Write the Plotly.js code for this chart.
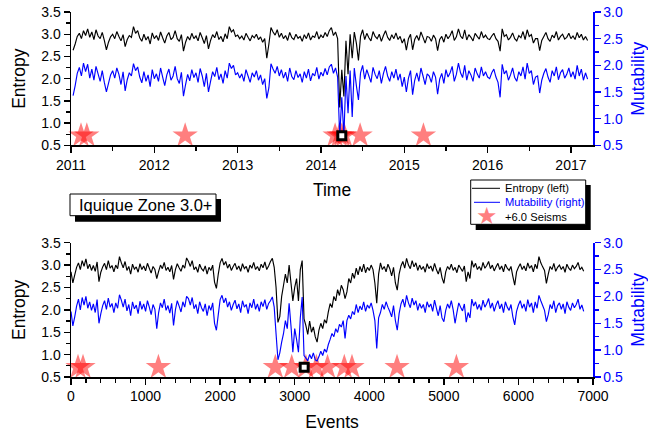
<!DOCTYPE html>
<html>
<head>
<meta charset="utf-8">
<script src="https://cdn.plot.ly/plotly-3.0.1.min.js"></script>
<style>
  html, body { margin: 0; padding: 0; background: #fff; }
  #chart { width: 648px; height: 432px; }
</style>
</head>
<body>
<div id="chart"></div>
<script>
// sampling of the two panels
const timeStart = 2011.025
const timeStep = 0.025
const eventStep = 25

// top panel, one value every 0.025 year
const timeEntropy = [
    2.64, 2.78, 2.95, 3.02, 2.9, 3.08, 2.97, 3.12, 2.93, 3.05, 2.88, 3.1, 2.96, 2.9, 3.04, 2.86, 2.65, 2.82, 2.94, 3.0,
    2.9, 3.06, 2.95, 2.85, 2.99, 2.72, 2.88, 2.97, 2.93, 3.17, 3.02, 3.08, 2.92, 2.84, 3.0, 2.87, 2.95, 2.78, 3.03, 2.9,
    2.97, 2.86, 3.05, 2.92, 2.8, 2.96, 3.04, 2.88, 2.93, 3.08, 2.9, 2.84, 2.99, 2.62, 2.82, 2.95, 2.87, 3.02, 2.9, 2.96,
    2.85, 3.04, 2.92, 2.79, 2.97, 2.67, 2.86, 2.99, 2.92, 3.06, 2.88, 2.95, 2.83, 3.01, 2.9, 3.17, 3.05, 3.1, 2.95, 2.98,
    2.9, 2.96, 2.87, 3.02, 2.93, 2.85, 2.97, 2.92, 3.0, 2.88, 2.94, 2.82, 2.9, 2.46, 2.78, 3.15, 3.05, 2.98, 3.1, 2.93,
    3.02, 2.9, 2.97, 2.86, 3.04, 2.92, 2.88, 3.0, 2.91, 2.95, 2.84, 2.99, 2.9, 3.03, 2.87, 2.96, 2.93, 3.06, 2.89, 2.98,
    2.92, 3.04, 2.95, 3.08, 3.15, 2.97, 3.05, 2.9, 1.35, 2.2, 1.6, 2.85, 2.1, 3.0, 2.46, 3.05, 2.8, 2.41, 2.95, 3.1,
    2.88, 3.02, 2.92, 2.85, 3.06, 2.95, 2.9, 3.0, 2.84, 2.97, 3.08, 2.93, 2.86, 2.99, 2.9, 3.03, 2.88, 2.95, 2.8, 2.9,
    2.64, 2.9, 3.0, 2.65, 2.88, 2.97, 2.86, 3.05, 2.93, 2.8, 2.95, 2.93, 2.84, 2.98, 2.9, 2.63, 2.88, 2.95, 2.82, 3.0,
    2.9, 2.97, 3.08, 2.86, 2.94, 3.12, 2.96, 2.9, 3.1, 2.87, 2.99, 2.93, 2.85, 3.02, 2.95, 2.89, 3.06, 2.92, 2.98, 2.9,
    2.88, 2.96, 3.02, 2.9, 2.84, 2.62, 3.12, 2.95, 2.99, 2.87, 2.93, 3.03, 2.9, 2.85, 2.97, 2.92, 3.06, 2.88, 3.1, 2.95,
    2.99, 2.8, 2.9, 2.9, 2.63, 2.86, 2.95, 3.04, 2.9, 2.84, 2.98, 2.92, 3.06, 2.87, 2.95, 3.0, 2.89, 2.93, 3.02, 2.9,
    2.96, 2.88, 3.04, 2.92, 3.0, 2.87, 2.95, 2.86
]
const timeMutability = [
    1.43, 1.62, 1.85, 1.96, 1.8, 2.04, 1.88, 2.02, 1.76, 1.93, 1.72, 1.98, 1.84, 1.7, 1.9, 1.68, 1.5, 1.66, 1.82, 1.9,
    1.76, 1.95, 1.83, 1.64, 1.88, 1.52, 1.73, 1.86, 1.8, 2.03, 1.9, 1.97, 1.78, 1.67, 1.88, 1.7, 1.82, 1.6, 1.92, 1.75,
    1.84, 1.7, 1.95, 1.78, 1.62, 1.82, 1.93, 1.72, 1.8, 1.98, 1.75, 1.66, 1.87, 1.42, 1.64, 1.83, 1.71, 1.92, 1.77, 1.86,
    1.68, 1.94, 1.8, 1.6, 1.85, 1.5, 1.7, 1.88, 1.79, 1.96, 1.73, 1.84, 1.66, 1.9, 1.76, 2.04, 1.94, 2.0, 1.82, 1.86,
    1.76, 1.84, 1.7, 1.92, 1.8, 1.68, 1.86, 1.78, 1.9, 1.72, 1.82, 1.64, 1.75, 1.38, 1.58, 2.03, 1.93, 1.85, 1.98, 1.8,
    1.92, 1.76, 1.87, 1.7, 1.95, 1.79, 1.73, 1.9, 1.77, 1.84, 1.68, 1.88, 1.76, 1.93, 1.71, 1.85, 1.8, 1.96, 1.74, 1.87,
    1.8, 1.94, 1.82, 1.97, 2.02, 1.85, 1.95, 1.78, 0.66, 1.4, 0.68, 1.8, 1.1, 1.9, 1.03, 1.95, 1.62, 1.35, 1.86, 2.0,
    1.74, 1.92, 1.8, 1.68, 1.96, 1.83, 1.75, 1.9, 1.66, 1.85, 1.98, 1.8, 1.7, 1.88, 1.76, 1.93, 1.72, 1.84, 1.6, 1.78,
    1.5, 1.76, 1.9, 1.45, 1.72, 1.86, 1.7, 1.95, 1.8, 1.64, 1.84, 1.8, 1.68, 1.88, 1.78, 1.46, 1.74, 1.85, 1.66, 1.92,
    1.78, 1.86, 1.98, 1.7, 1.83, 2.04, 1.86, 1.77, 2.0, 1.72, 1.9, 1.82, 1.7, 1.95, 1.84, 1.76, 1.97, 1.8, 1.88, 1.78,
    1.75, 1.86, 1.93, 1.78, 1.68, 1.4, 2.02, 1.84, 1.9, 1.72, 1.82, 1.95, 1.77, 1.7, 1.88, 1.8, 1.97, 1.74, 2.04, 1.85,
    1.9, 1.64, 1.78, 1.8, 1.48, 1.72, 1.85, 1.94, 1.78, 1.68, 1.9, 1.8, 1.97, 1.73, 1.86, 1.92, 1.76, 1.83, 1.95, 1.78,
    1.88, 1.74, 2.0, 1.8, 1.93, 1.72, 1.86, 1.74
]

// bottom panel, one value every 25 events
const eventEntropy = [
    2.85, 2.6, 2.78, 2.95, 3.05, 2.9, 3.1, 2.97, 3.14, 2.92, 3.02, 2.88, 2.99, 2.86, 3.07, 2.63, 2.84, 2.96, 3.04, 2.9,
    3.1, 2.93, 2.99, 2.85, 3.0, 2.92, 3.19, 3.05, 2.94, 3.08, 2.88, 2.97, 2.8, 3.02, 2.91, 2.96, 2.84, 3.03, 2.9, 2.98,
    2.87, 3.04, 2.93, 2.82, 2.97, 2.9, 2.7, 2.86, 3.0, 2.92, 3.06, 2.88, 2.95, 2.85, 2.99, 2.68, 2.9, 3.03, 2.94, 2.86,
    3.0, 2.93, 3.16, 3.08, 2.97, 3.1, 2.9, 2.96, 2.84, 3.02, 2.92, 2.87, 2.98, 2.8, 2.95, 2.88, 3.0, 2.62, 2.48, 2.8,
    3.05, 3.15, 3.0, 3.08, 2.93, 3.02, 2.88, 2.97, 3.04, 2.9, 2.98, 2.86, 3.03, 2.92, 2.97, 2.84, 3.0, 2.93, 3.06, 2.9,
    2.97, 2.87, 3.02, 2.94, 3.07, 2.9, 2.98, 3.08, 3.15, 2.95, 2.5, 1.72, 1.85, 2.3, 2.55, 2.8, 2.6, 3.0, 2.6, 2.2,
    2.5, 2.7, 2.2, 2.9, 3.1, 1.8, 1.65, 1.45, 1.75, 1.5, 1.62, 1.4, 1.28, 1.55, 1.7, 1.58, 1.78, 1.7, 1.95, 2.14,
    2.05, 2.3, 2.2, 2.45, 2.32, 2.55, 2.45, 2.25, 2.4, 2.7, 2.6, 2.82, 2.7, 2.93, 2.78, 2.97, 2.85, 3.02, 2.83, 2.95,
    2.88, 3.0, 2.9, 2.6, 2.15, 2.8, 3.05, 2.9, 2.97, 2.85, 3.02, 2.92, 2.76, 2.95, 2.6, 2.44, 2.8, 2.98, 3.08, 2.93,
    3.15, 3.0, 2.92, 3.1, 2.96, 3.05, 2.88, 3.0, 2.9, 2.97, 2.84, 3.03, 2.92, 2.98, 2.86, 3.04, 2.9, 2.8, 2.95, 2.72,
    2.59, 2.85, 2.97, 2.9, 3.02, 2.88, 2.95, 2.83, 3.0, 2.93, 2.86, 2.98, 2.63, 2.85, 2.7, 3.1, 2.95, 3.04, 2.9, 2.97,
    2.88, 3.06, 2.93, 2.99, 3.08, 2.92, 3.0, 2.87, 2.96, 3.04, 2.9, 2.98, 2.85, 3.02, 2.93, 2.88, 2.97, 2.75, 2.55, 2.85,
    2.95, 3.03, 2.9, 2.98, 2.87, 3.05, 2.93, 2.99, 2.85, 3.02, 2.92, 3.19, 3.05, 2.96, 2.88, 2.59, 2.8, 2.97, 2.9, 3.04,
    2.86, 2.95, 3.0, 2.9, 2.97, 2.84, 3.02, 2.93, 2.88, 3.0, 2.92, 2.97, 3.06, 2.9, 2.95, 2.86
]
const eventMutability = [
    1.72, 1.45, 1.62, 1.82, 1.95, 1.75, 1.98, 1.84, 2.0, 1.78, 1.9, 1.74, 1.86, 1.7, 1.94, 1.5, 1.68, 1.83, 1.92, 1.76,
    1.97, 1.8, 1.87, 1.7, 1.88, 1.78, 2.03, 1.93, 1.8, 1.95, 1.73, 1.85, 1.64, 1.9, 1.77, 1.84, 1.68, 1.91, 1.76, 1.86,
    1.72, 1.92, 1.8, 1.66, 1.85, 1.76, 1.4, 1.7, 1.88, 1.79, 1.95, 1.74, 1.83, 1.69, 1.87, 1.46, 1.75, 1.92, 1.82, 1.71,
    1.9, 1.8, 2.0, 1.96, 1.84, 1.98, 1.77, 1.85, 1.68, 1.9, 1.79, 1.72, 1.86, 1.64, 1.83, 1.74, 1.88, 1.5, 1.37, 1.66,
    1.94, 2.02, 1.88, 1.97, 1.8, 1.9, 1.74, 1.85, 1.93, 1.77, 1.86, 1.7, 1.92, 1.8, 1.85, 1.68, 1.88, 1.79, 1.95, 1.76,
    1.86, 1.72, 1.9, 1.81, 1.94, 1.76, 1.87, 1.92, 1.99, 1.8, 1.3, 0.82, 0.95, 1.15, 1.31, 1.55, 1.4, 1.87, 1.45, 0.96,
    1.4, 1.2, 0.96, 1.6, 1.99, 0.9, 0.85, 0.8, 0.92, 0.84, 0.95, 0.82, 0.8, 0.88, 0.98, 0.9, 1.02, 0.96, 1.1, 1.2,
    1.31, 1.25, 1.4, 1.33, 1.48, 1.43, 1.55, 1.22, 1.55, 1.65, 1.58, 1.72, 1.66, 1.85, 1.7, 1.82, 1.75, 1.9, 1.72, 1.84,
    1.78, 1.88, 1.74, 1.55, 1.03, 1.6, 1.7, 1.85, 1.76, 1.9, 1.8, 1.72, 1.62, 1.83, 1.55, 1.37, 1.68, 1.86, 1.95, 1.8,
    2.02, 1.88, 1.79, 1.97, 1.84, 1.92, 1.74, 1.87, 1.78, 1.85, 1.7, 1.9, 1.8, 1.86, 1.72, 1.93, 1.78, 1.64, 1.83, 1.6,
    1.53, 1.74, 1.86, 1.78, 1.92, 1.75, 1.5, 1.7, 1.88, 1.8, 1.73, 1.86, 1.52, 1.7, 1.6, 1.95, 1.82, 1.9, 1.76, 1.85,
    1.74, 1.93, 1.8, 1.87, 1.96, 1.78, 1.88, 1.72, 1.84, 1.92, 1.77, 1.86, 1.7, 1.9, 1.8, 1.74, 1.85, 1.62, 1.47, 1.72,
    1.84, 1.92, 1.78, 1.86, 1.72, 1.94, 1.8, 1.88, 1.7, 1.9, 1.78, 2.02, 1.92, 1.83, 1.74, 1.53, 1.66, 1.85, 1.77, 1.92,
    1.7, 1.83, 1.88, 1.76, 1.86, 1.68, 1.9, 1.8, 1.74, 1.88, 1.79, 1.85, 1.95, 1.76, 1.84, 1.72
]

// +6.0 seisms
const seismTimes = [2011.12, 2011.19, 2012.37, 2014.17, 2014.22, 2014.25, 2014.28, 2014.47, 2015.23]
const seismEvents = [94, 161, 1172, 2740, 2960, 3150, 3290, 3440, 3665, 3768, 4372, 5168]
const seismLevel = 0.72

// Iquique main shock marker (right axis units)
const mainTime = [2014.25]
const mainEvent = [3127]
const mainLevel = [0.68]

const xTime = timeEntropy.map((_, i) => +(timeStart + i * timeStep).toFixed(3))
const xEvents = eventEntropy.map((_, i) => i * eventStep)

const FONT = "Arial, 'Liberation Sans', sans-serif"
const BLUE = "#0000ff"
const STAR = "rgba(255,0,0,0.5)"

// page geometry, used for the boxes drawn in paper space
const W = 648, H = 432
const M = { l: 71, r: 55, t: 12, b: 55 }
const PW = W - M.l - M.r
const PH = H - M.t - M.b
const px = (x) => (x - M.l) / PW
const py = (y) => (H - M.b - y) / PH

function seismTrace(x, xa, ya) {
    return {
        x: x, y: x.map(() => seismLevel), xaxis: xa, yaxis: ya,
        type: "scatter", mode: "markers", cliponaxis: false, hoverinfo: "skip",
        marker: { symbol: "star", size: 19, color: STAR, line: { width: 0 } },
    }
}
function lineTrace(x, y, xa, ya, color) {
    return {
        x: x, y: y, xaxis: xa, yaxis: ya, type: "scatter", mode: "lines",
        line: { color: color, width: 1.15, simplify: false }, hoverinfo: "skip",
    }
}
function mainTrace(x, xa, ya) {
    return {
        x: x, y: mainLevel, xaxis: xa, yaxis: ya, type: "scatter", mode: "markers",
        cliponaxis: false, hoverinfo: "skip",
        marker: { symbol: "square", size: 8, color: "#fff", line: { color: "#000", width: 3 } },
    }
}

const traces = [
    seismTrace(seismTimes, "x", "y"),
    lineTrace(xTime, timeEntropy, "x", "y", "#000"),
    lineTrace(xTime, timeMutability, "x", "y2", BLUE),
    mainTrace(mainTime, "x", "y2"),
    seismTrace(seismEvents, "x2", "y3"),
    lineTrace(xEvents, eventEntropy, "x2", "y3", "#000"),
    lineTrace(xEvents, eventMutability, "x2", "y4", BLUE),
    mainTrace(mainEvent, "x2", "y4"),
]

function xAxis(anchor, range, dtick, minor, title, standoff) {
    return {
        anchor: anchor, domain: [0, 1], range: range, tick0: range[0], dtick: dtick,
        ticks: "outside", ticklen: 6, tickwidth: 1.3, tickcolor: "#000",
        showline: true, linecolor: "#000", linewidth: 1.5,
        showgrid: false, zeroline: false,
        tickfont: { family: FONT, size: 14, color: "#000" },
        minor: { tick0: range[0], dtick: minor, ticks: "outside", ticklen: 4, tickwidth: 1.3, tickcolor: "#000", showgrid: false },
        title: { text: title, font: { family: FONT, size: 17.5, color: "#000" }, standoff: standoff },
    }
}
function yAxis(anchor, domain, range, color, side, title, overlay) {
    const ax = {
        anchor: anchor, range: range, tick0: 0.5, dtick: 0.5, tickformat: ".1f",
        ticks: "outside", ticklen: 6, tickwidth: 1.3, tickcolor: color,
        showline: true, linecolor: color, linewidth: 1.5,
        showgrid: false, zeroline: false, side: side,
        tickfont: { family: FONT, size: 14, color: color },
        minor: { tick0: 0.5, dtick: 0.25, ticks: "outside", ticklen: 4, tickwidth: 1.3, tickcolor: color, showgrid: false },
        title: { text: title, font: { family: FONT, size: 17.5, color: color }, standoff: 11 },
    }
    if (overlay) ax.overlaying = overlay
    else ax.domain = domain
    return ax
}

const topDomain = [py(145.3), 1]
const bottomDomain = [0, py(242.7)]

const boxLine = { color: "#000", width: 1 }
const shapes = [
    // legend box and its shadow
    { type: "rect", xref: "paper", yref: "paper", x0: px(475.7), x1: px(590.7), y0: py(230), y1: py(185), fillcolor: "#000", line: { width: 0 } },
    { type: "rect", xref: "paper", yref: "paper", x0: px(470.7), x1: px(585.7), y0: py(224.3), y1: py(180), fillcolor: "#fff", line: boxLine },
    { type: "line", xref: "paper", yref: "paper", x0: px(472), x1: px(500), y0: py(188.3), y1: py(188.3), line: { color: "#000", width: 1 } },
    { type: "line", xref: "paper", yref: "paper", x0: px(474), x1: px(500), y0: py(202.3), y1: py(202.3), line: { color: BLUE, width: 1 } },
    // zone label box and its shadow
    { type: "rect", xref: "paper", yref: "paper", x0: px(75), x1: px(221), y0: py(221.7), y1: py(199), fillcolor: "#000", line: { width: 0 } },
    { type: "rect", xref: "paper", yref: "paper", x0: px(70), x1: px(216), y0: py(215.7), y1: py(194), fillcolor: "#fff", line: boxLine },
]

function note(text, x, y, size, color, family) {
    return {
        text: text, xref: "paper", yref: "paper", x: px(x), y: py(y),
        xanchor: "left", yanchor: "middle", showarrow: false,
        font: { family: family || FONT, size: size, color: color },
    }
}
const annotations = [
    note("Entropy (left)", 502.7, 188.3, 11.2, "#000"),
    note("Mutability (right)", 502.7, 202.3, 11.2, BLUE),
    note("+6.0 Seisms", 502.7, 216.7, 11.2, "#000"),
    Object.assign(note("★", 486.7, 215.5, 24, STAR, "DejaVu Sans"), { xanchor: "center" }),
    note("Iquique Zone 3.0+", 77.3, 205, 16.5, "#000"),
]

const layout = {
    width: W, height: H,
    margin: M,
    paper_bgcolor: "#fff", plot_bgcolor: "rgba(0,0,0,0)",
    font: { family: FONT, color: "#000" },
    showlegend: false,
    xaxis: xAxis("y", [2011, 2017.265], 1, 0.5, "Time", 12),
    yaxis: yAxis("x", topDomain, [0.5, 3.5], "#000", "left", "Entropy"),
    yaxis2: yAxis("x", null, [0.5, 3.0], BLUE, "right", "Mutability", "y"),
    xaxis2: xAxis("y3", [0, 7000], 1000, 200, "Events", 13),
    yaxis3: yAxis("x2", bottomDomain, [0.5, 3.5], "#000", "left", "Entropy"),
    yaxis4: yAxis("x2", null, [0.5, 3.0], BLUE, "right", "Mutability", "y3"),
    shapes: shapes,
    annotations: annotations,
}

Plotly.newPlot("chart", traces, layout, { staticPlot: true, displayModeBar: false })
</script>
</body>
</html>
